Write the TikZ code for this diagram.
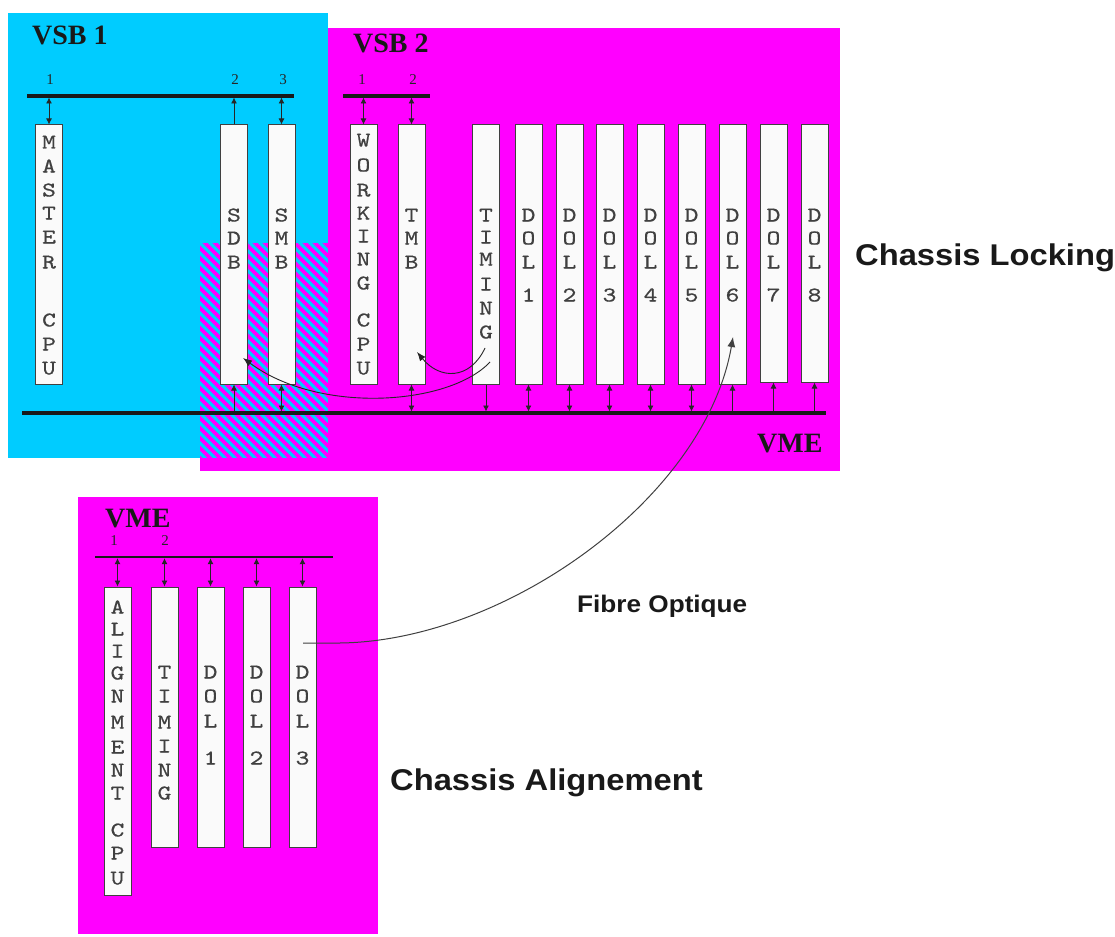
\documentclass[tikz,border=0pt]{standalone}
\usepackage{fontspec}
\usetikzlibrary{arrows.meta}
\newfontfamily\seriffnt{Liberation Serif}
\newfontfamily\sansfnt[FakeStretch=1.09]{Liberation Sans}
\newfontfamily\boardfnt{lmmono10-regular}[Extension=.otf,FakeStretch=1.25,FakeBold=0.6]
\definecolor{vsbcyan}{RGB}{0,204,255}
\definecolor{vmemag}{RGB}{255,0,255}
\definecolor{boardfill}{RGB}{250,250,250}
\newcommand{\bletters}[3]{\foreach \yy/\ll [count=\k] in {#3} {\node[btxt] (#1-\k) at (#2,\yy) {\ll};}}
\begin{document}
\begin{tikzpicture}[x=1pt,y=-1pt,
  board/.style={draw=black!75, fill=boardfill, line width=1pt, inner sep=0pt, minimum width=27pt},
  btxt/.style={font=\boardfnt\fontsize{21}{24}\selectfont, text=black!75, anchor=base, yshift=-6.5pt, inner sep=0pt},
  title/.style={font=\seriffnt\bfseries\fontsize{28}{30}\selectfont, anchor=base west, inner sep=0pt, text=black!90},
  num/.style={font=\seriffnt\fontsize{15}{16}\selectfont, anchor=base, inner sep=0pt, text=black!85},
  lbl/.style={font=\sansfnt\bfseries\fontsize{30}{32}\selectfont, anchor=base west, inner sep=0pt, text=black!90},
  lblsmall/.style={font=\sansfnt\bfseries\fontsize{24}{26}\selectfont, anchor=base west, inner sep=0pt, text=black!90},
  bus/.style={line width=3.5pt, draw=black!90},
  bbus/.style={line width=2.6pt, draw=black!90},
  link/.style={line width=0.8pt, draw=black!85},
  lkboth/.style={link, arrows={Latex[length=6pt,width=6pt]-Latex[length=6pt,width=6pt]}},
  lkend/.style={link, arrows={-Latex[length=6pt,width=6pt]}},
  lkstart/.style={link, arrows={Latex[length=6pt,width=6pt]-}},
  curv/.style={line width=0.9pt, draw=black!85, arrows={-Latex[length=9pt,width=7pt]}},
  fibre/.style={line width=1pt, draw=black!75, arrows={-Latex[length=10pt,width=8pt]}}
]
\useasboundingbox (0,0) rectangle (1115,936);
% backgrounds
\fill[vmemag] (200,28) rectangle (840,471);
\fill[vsbcyan] (8,13) rectangle (328,458);
\begin{scope}
  \clip (200,243) rectangle (328,458);
  \fill[vsbcyan] (200,243) rectangle (328,458);
  \foreach \i in {0,...,36} {\draw[vmemag, line width=3.6pt] ({\i*10-20},238) -- ++(240,240);}
\end{scope}
\fill[vmemag] (78,497) rectangle (378,934);

% titles
\node[title] (vsb1) at (32,45) {VSB 1};
\node[title] (vsb2) at (353,53) {VSB 2};
\node[title] (vmetop) at (757,452) {VME};
\node[title] (vmebot) at (105,527) {VME};

% numbers
\node[num] (n11) at (50,85) {1};
\node[num] (n12) at (235,85) {2};
\node[num] (n13) at (283,85) {3};
\node[num] (n21) at (362,85) {1};
\node[num] (n22) at (413,85) {2};
\node[num] (n31) at (114,545) {1};
\node[num] (n32) at (165,545) {2};

% boards top chassis
\node[board, minimum height=259pt] (master) at (49,254.5) {};
\node[board, minimum height=259pt] (sdb) at (234,254.5) {};
\node[board, minimum height=259pt] (smb) at (281.5,254.5) {};
\node[board, minimum height=259pt] (working) at (363.5,254.5) {};
\node[board, minimum height=259pt] (tmb) at (411.5,254.5) {};
\node[board, minimum height=259pt] (timing) at (486,254.5) {};
\node[board, minimum height=259pt] (dol1) at (528.5,254.5) {};
\node[board, minimum height=259pt] (dol2) at (569.5,254.5) {};
\node[board, minimum height=259pt] (dol3) at (609.5,254.5) {};
\node[board, minimum height=259pt] (dol4) at (650.5,254.5) {};
\node[board, minimum height=259pt] (dol5) at (691.5,254.5) {};
\node[board, minimum height=259pt] (dol6) at (732.5,254.5) {};
\node[board, minimum height=257pt] (dol7) at (773.5,253.5) {};
\node[board, minimum height=257pt] (dol8) at (814.5,253.5) {};

% boards bottom chassis
\node[board, minimum height=308pt] (align) at (117.5,741) {};
\node[board, minimum height=260pt] (btim) at (164.5,717) {};
\node[board, minimum height=260pt] (bdol1) at (210.5,717) {};
\node[board, minimum height=260pt] (bdol2) at (256.5,717) {};
\node[board, minimum height=260pt] (bdol3) at (302.5,717) {};

% letters
\bletters{mt}{49}{142/M,166/A,190/S,213/T,237/E,262/R,320/C,344/P,368/U}
\bletters{sd}{234}{215/S,238/D,262/B}
\bletters{sm}{281.5}{215/S,238/M,262/B}
\bletters{wk}{363.5}{140/W,165/O,190/R,213/K,236/I,259/N,283/G,320/C,344/P,368/U}
\bletters{tm}{411.5}{215/T,238/M,262/B}
\bletters{ti}{486}{215/T,237/I,259/M,284/I,308/N,332/G}
\bletters{da}{528.5}{215/D,238/O,262/L,295/1}
\bletters{db}{569.5}{215/D,238/O,262/L,295/2}
\bletters{dc}{609.5}{215/D,238/O,262/L,295/3}
\bletters{dd}{650.5}{215/D,238/O,262/L,295/4}
\bletters{de}{691.5}{215/D,238/O,262/L,295/5}
\bletters{df}{732.5}{215/D,238/O,262/L,295/6}
\bletters{dg}{773.5}{215/D,238/O,262/L,295/7}
\bletters{dh}{814.5}{215/D,238/O,262/L,295/8}
\bletters{al}{117.5}{607/A,629/L,651/I,673/G,696/N,722/M,747/E,770/N,793/T,830/C,853/P,878/U}
\bletters{bt}{164.5}{672/T,696/I,722/M,746/I,770/N,793/G}
\bletters{ba}{210.5}{672/D,696/O,721/L,758/1}
\bletters{bb}{256.5}{672/D,696/O,721/L,758/2}
\bletters{bc}{302.5}{672/D,696/O,721/L,758/3}

% bus coordinates
\coordinate (v1L) at (27,96);
\coordinate (v1R) at (294,96);
\coordinate (v2L) at (343,96);
\coordinate (v2R) at (430,96);
\coordinate (vmeL) at (22,413);
\coordinate (vmeR) at (826,413);
\coordinate (v3L) at (95,557);
\coordinate (v3R) at (333,557);

% connectors to VSB buses
\draw[lkboth, shorten >=1.5pt] (master.north) -- (master.north |- v1L);
\draw[lkend, shorten >=1.5pt] (sdb.north) -- (sdb.north |- v1L);
\draw[lkboth, shorten >=1.5pt] (smb.north) -- (smb.north |- v1L);
\draw[lkboth, shorten >=1.5pt] (working.north) -- (working.north |- v2L);
\draw[lkboth, shorten >=1.5pt] (tmb.north) -- (tmb.north |- v2L);
% connectors to VME bus
\draw[lkstart, shorten >=1.5pt] (sdb.south) -- (sdb.south |- vmeL);
\draw[lkboth, shorten >=1.5pt] (smb.south) -- (smb.south |- vmeL);
\draw[lkboth, shorten >=1.5pt] (tmb.south) -- (tmb.south |- vmeL);
\draw[lkend, shorten >=1.5pt] (timing.south) -- (timing.south |- vmeL);
\foreach \b in {dol1,dol2,dol3,dol4,dol5} {\draw[lkboth, shorten >=1.5pt] (\b.south) -- (\b.south |- vmeL);}
\foreach \b in {dol6,dol7,dol8} {\draw[lkstart, shorten >=1.5pt] (\b.south) -- (\b.south |- vmeL);}
% bottom chassis connectors
\foreach \b in {align,btim,bdol1,bdol2,bdol3} {\draw[lkboth, shorten >=1.2pt] (\b.north) -- (\b.north |- v3L);}

% buses
\draw[bus] (v1L) -- (v1R);
\draw[bus] (v2L) -- (v2R);
\draw[bus] (vmeL) -- (vmeR);
\draw[bbus] (v3L) -- (v3R);

% curved arrows
\coordinate (tA) at (490,362);
\coordinate (sdbin) at (243,358);
\coordinate (tB) at (485,348);
\coordinate (tmbin) at (417,352);
\draw[curv] (tA) .. controls (450,405) and (320,415) .. (sdbin);
\draw[curv] (tB) .. controls (470,380) and (440,380) .. (tmbin);

% fibre
\coordinate (fa) at (303,643);
\coordinate (fa2) at (333,643);
\coordinate (fb) at (733,337);
\draw[fibre] (fa) -- (fa2) .. controls (500,645) and (705,500) .. (fb);

% labels
\node[lbl] (locking) at (855,265) {Chassis Locking};
\node[lbl] (alignement) at (390,790) {Chassis Alignement};
\node[lblsmall] (fibrelbl) at (577,612) {Fibre Optique};
\end{tikzpicture}
\end{document}
